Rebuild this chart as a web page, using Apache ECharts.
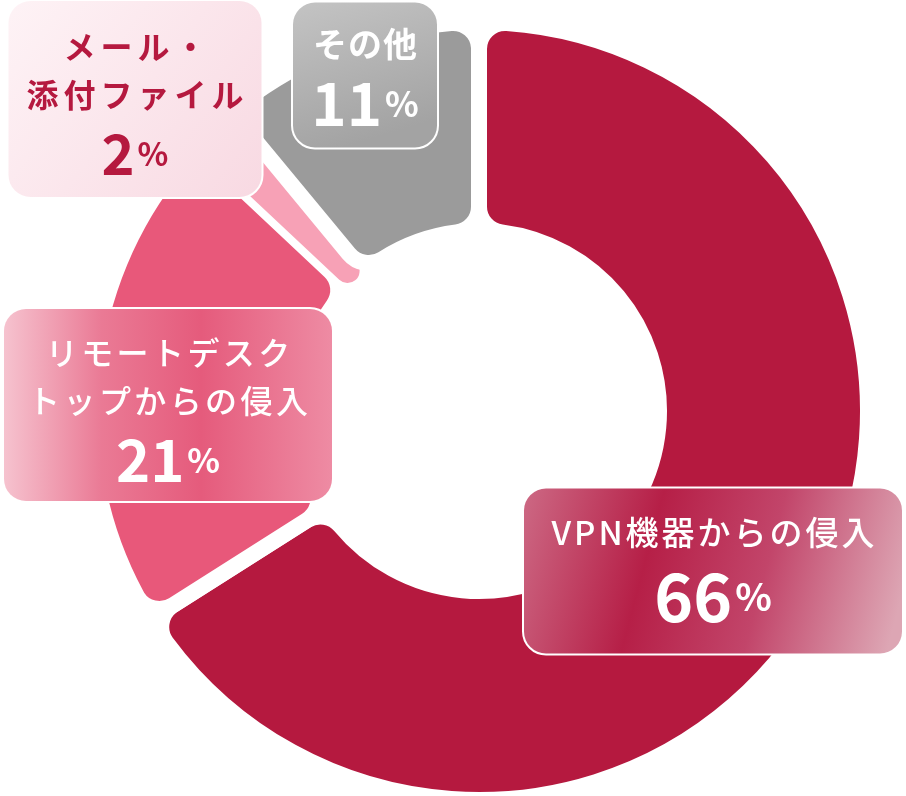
<!DOCTYPE html>
<html>
<head>
<meta charset="utf-8" />
<title>侵入経路の割合</title>
<script src="https://cdn.jsdelivr.net/npm/echarts@6/dist/echarts.min.js"></script>
<style>
  html, body { margin: 0; padding: 0; background: #fff; }
  #main { width: 906px; height: 796px; }
</style>
</head>
<body>
<div id="main"></div>
<script type="text/javascript">
    // 項目名（改行位置はラベルの折り返し）
    var categories = ['VPN機器からの侵入', 'リモートデスク\nトップからの侵入', 'メール・\n添付ファイル', 'その他'];
    // 割合（%）
    var shares = [66, 21, 2, 11];
    var sliceColors = ['#B5193F', '#E8587A', '#F7A1B6', '#9B9B9B'];
    // 扇形のすき間（白い枠線の太さ）
    var gapWidths = [16, 16, 0, 16];

    // ラベルの箱の位置とサイズ
    var boxCenters = [[713, 571], [168, 405], [135, 99], [365, 75]];
    var boxSizes = [[378, 165], [328, 192], [253, 190], [144, 143]];
    var boxPadding = [[20, 17], [20, 6], [22, 8], [18, 9]];

    var boxFills = [
        { type: 'linear', x: 0, y: 0, x2: 1, y2: 0.6, colorStops: [
            { offset: 0, color: '#CD6A85' }, { offset: 0.35, color: '#B61F47' },
            { offset: 0.65, color: '#C2456A' }, { offset: 1, color: '#DDA6B4' }] },
        { type: 'linear', x: 0, y: 0, x2: 1, y2: 0, colorStops: [
            { offset: 0, color: '#F6C4D0' }, { offset: 0.3, color: '#EA7A95' },
            { offset: 0.6, color: '#E55B7C' }, { offset: 1, color: '#EE8CA4' }] },
        { type: 'linear', x: 0, y: 0, x2: 1, y2: 1, colorStops: [
            { offset: 0, color: '#FEF3F6' }, { offset: 1, color: '#F8D9E2' }] },
        { type: 'linear', x: 0, y: 0, x2: 0.3, y2: 1, colorStops: [
            { offset: 0, color: '#C4C4C4' }, { offset: 1, color: '#A3A3A3' }] }
    ];
    var textColors = ['#fff', '#fff', '#B5193F', '#fff'];
    var titleSizes = [33, 32, 32, 34];
    var titleWeights = [500, 500, 'bold', 'bold'];
    var letterGaps = [1.5, 1.7, 2.5, 0.5];
    var numSizes = [66, 58, 56, 60];

    var font = '"Noto Sans CJK JP", "Noto Sans", sans-serif';

    var pieData = categories.map(function (name, i) {
        var lh = i === 0 ? 80 : 70;
        return {
            name: name,
            value: shares[i],
            itemStyle: { color: sliceColors[i], borderWidth: gapWidths[i] },
            label: {
                backgroundColor: boxFills[i],
                width: boxSizes[i][0],
                padding: [boxPadding[i][0], 0, boxPadding[i][1], 0],
                rich: {
                    t: { color: textColors[i], fontSize: titleSizes[i], fontWeight: titleWeights[i],
                         lineHeight: 48, padding: [0, letterGaps[i]], fontFamily: font },
                    n: { color: textColors[i], fontSize: numSizes[i], fontWeight: 'bold',
                         lineHeight: lh, fontFamily: font },
                    p: { color: textColors[i], fontSize: Math.round(numSizes[i] * 0.58), fontWeight: 'bold',
                         lineHeight: lh, padding: [0, 0, 0, 3], fontFamily: font }
                }
            }
        };
    });

    var myChart = echarts.init(document.getElementById('main'));
    var option = {
        animation: false,
        series: [{
            type: 'pie',
            center: [479, 411],
            radius: [180, 389],
            startAngle: 90,
            clockwise: true,
            avoidLabelOverlap: false,
            itemStyle: {
                borderColor: '#fff',
                borderRadius: 26
            },
            label: {
                show: true,
                position: 'outside',
                align: 'center',
                borderColor: '#fff',
                borderWidth: 2,
                borderRadius: 22,
                formatter: function (p) {
                    // 1文字ずつ区切って字間をあける
                    var lines = p.name.split('\n').map(function (l) {
                        return l.split('').map(function (ch) { return '{t|' + ch + '}'; }).join('');
                    });
                    return lines.join('\n') + '\n{n|' + p.value + '}{p|%}';
                }
            },
            labelLine: { show: false },
            labelLayout: function (params) {
                var c = boxCenters[params.dataIndex];
                return { x: c[0], y: c[1], align: 'center', verticalAlign: 'middle' };
            },
            emphasis: { disabled: true },
            data: pieData
        }]
    };

    myChart.setOption(option);
</script>
</body>
</html>
